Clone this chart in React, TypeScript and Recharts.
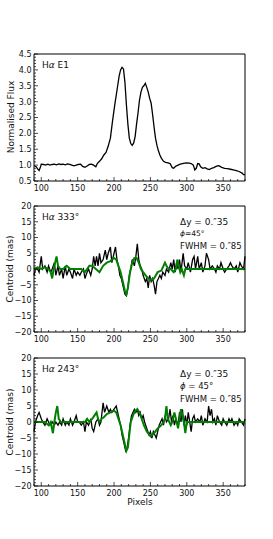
import React from 'react';
import { LineChart, Line, XAxis, YAxis } from 'recharts';

const FONT = '"DejaVu Sans", sans-serif';
const GREEN = '#008000';

// pixel axis
const pixelMajor = [100, 150, 200, 250, 300, 350];
const pixelMinor = [90, 100, 110, 120, 130, 140, 150, 160, 170, 180, 190, 200, 210, 220, 230, 240, 250, 260, 270, 280, 290, 300, 310, 320, 330, 340, 350, 360, 370, 380];

// flux axis
const fluxMajor = [0.5, 1.0, 1.5, 2.0, 2.5, 3.0, 3.5, 4.0, 4.5];
const fluxMinor = [0.5, 0.6, 0.7, 0.8, 0.9, 1.0, 1.1, 1.2, 1.3, 1.4, 1.5, 1.6, 1.7, 1.8, 1.9, 2.0, 2.1, 2.2, 2.3, 2.4, 2.5, 2.6, 2.7, 2.8, 2.9, 3.0, 3.1, 3.2, 3.3, 3.4, 3.5, 3.6, 3.7, 3.8, 3.9, 4.0, 4.1, 4.2, 4.3, 4.4, 4.5];

// centroid axis
const centroidMajor = [-20, -15, -10, -5, 0, 5, 10, 15, 20];
const centroidMinor = [-20, -19, -18, -17, -16, -15, -14, -13, -12, -11, -10, -9, -8, -7, -6, -5, -4, -3, -2, -1, 0, 1, 2, 3, 4, 5, 6, 7, 8, 9, 10, 11, 12, 13, 14, 15, 16, 17, 18, 19, 20];

// H-alpha E1 spectrum [pixel, normalised flux]
const fluxE1: [number, number][] = [
  [90, 0.98], [93, 0.95], [95, 0.88], [97, 0.83], [99, 0.95], [100, 1.03], [103, 1.02], [106, 1.0],
  [109, 1.03], [112, 1.0], [115, 1.02], [118, 1.03], [121, 1.01], [124, 1.04], [127, 1.02], [130, 1.03],
  [133, 1.01], [136, 1.04], [139, 1.02], [142, 1.0], [145, 0.98], [148, 1.0], [151, 1.02], [154, 1.03],
  [157, 0.96], [160, 0.93], [163, 0.97], [166, 1.02], [169, 1.03], [172, 1.0], [175, 0.95], [177, 1.05],
  [180, 1.12], [183, 1.2], [186, 1.32], [189, 1.4], [192, 1.6], [195, 1.85], [198, 2.4], [201, 2.9],
  [204, 3.35], [207, 3.8], [209, 4.0], [211, 4.08], [213, 4.03], [215, 3.6], [217, 2.9], [219, 2.3],
  [221, 1.85], [223, 1.68], [225, 1.62], [227, 1.7], [229, 1.9], [231, 2.3], [233, 2.65], [235, 3.05],
  [237, 3.3], [239, 3.45], [241, 3.5], [243, 3.58], [245, 3.45], [247, 3.3], [249, 3.1], [251, 2.95],
  [253, 2.6], [255, 2.2], [257, 1.85], [259, 1.62], [261, 1.45], [263, 1.32], [265, 1.22], [268, 1.12],
  [271, 1.09], [274, 1.07], [277, 1.05], [280, 0.92], [282, 0.9], [285, 0.97], [288, 1.0], [291, 1.03],
  [294, 1.05], [297, 1.06], [300, 1.07], [303, 1.06], [306, 1.05], [309, 1.0], [311, 0.85], [313, 0.9],
  [315, 1.05], [317, 1.04], [319, 0.95], [322, 0.9], [325, 0.92], [328, 0.88], [331, 0.86], [334, 0.9],
  [337, 0.92], [341, 0.97], [344, 0.98], [348, 0.93], [352, 0.9], [356, 0.89], [360, 0.87], [364, 0.85],
  [368, 0.83], [372, 0.8], [376, 0.75], [378, 0.7], [380, 0.7],
];

// PA 333 deg: observed centroid (black) and model (green)
const obs333: [number, number][] = [
  [90, -2], [92, 0], [95, 0], [97, -1], [100, 4], [102, 0], [105, 1], [108, -1], [110, 1], [113, -1],
  [115, 0], [118, 2], [120, -2], [123, 1], [125, -2], [128, 0], [130, -3], [133, 1], [135, -2], [138, 0],
  [140, -1], [143, -3], [145, 0], [148, -2], [150, -1], [153, -2], [155, -1], [158, 0], [160, -3], [163, -1],
  [165, 0], [168, -2], [170, 0], [172, 4], [174, 1], [176, 4], [178, 1], [180, 5], [182, 2], [185, 3],
  [188, 6], [190, 3], [192, 5], [195, 7], [197, 2], [200, 5], [202, 7], [204, 3], [206, 1], [208, -2],
  [210, -3], [213, -6], [215, -8], [217, -8.5], [219, -6], [221, -2], [223, 0], [225, 3], [228, 1], [230, 4],
  [232, 8], [234, 3], [236, 1], [238, 0], [240, -2], [243, -4], [245, -3], [247, -6], [249, -2], [251, -4],
  [253, -3], [255, -5], [257, -8], [259, -4], [261, -3], [263, -2], [265, -3], [267, -1], [270, -2], [272, 0],
  [275, -1], [278, 2], [280, 0], [282, 3], [284, -1], [286, 2], [288, 0], [290, 3], [292, -1], [295, 5],
  [297, 1], [300, 0], [302, 2], [305, -1], [308, 3], [310, 4], [312, 0], [315, 4], [317, 0], [320, 2],
  [322, -1], [325, 1], [327, 5], [330, 3], [332, 0], [335, 1], [338, 0], [340, -1], [342, 1], [345, 0],
  [347, 2], [350, 0], [352, -1], [355, 0], [358, 1], [360, 2], [362, 1], [365, 0], [368, 1], [370, -1],
  [373, 2], [375, 1], [378, 0], [380, 4],
];

const model333: [number, number][] = [
  [90, 0], [95, 0.5], [100, 0], [105, 0.5], [110, 0], [113, -1], [115, -3], [117, 0], [119, 2], [121, 4],
  [123, 1], [126, 0], [130, 0], [135, 1], [140, 0], [145, 0], [150, 0], [155, 0], [160, -1], [163, 0],
  [166, 1], [170, 1], [175, 0], [180, -1], [185, 1], [190, 2], [195, 2.5], [200, 3.5], [203, 3], [206, 1],
  [209, -1], [212, -4], [215, -7], [217, -8], [219, -6], [222, -1], [225, 2], [228, 3.5], [231, 3.5], [234, 2],
  [237, 0], [240, -1], [245, -2.5], [250, -3.5], [255, -3], [260, -1], [265, -0.5], [268, 1], [270, 2], [272, 1],
  [275, 0], [278, 0], [282, -1], [285, 0], [287, 3], [289, 1], [291, -1], [293, 0], [296, -2], [298, 0],
  [300, 0], [310, 0], [320, 0], [330, 0], [340, 0], [350, 0], [360, 0], [370, 0], [380, 0],
];

// PA 243 deg
const obs243: [number, number][] = [
  [90, -3], [92, 0], [95, 2], [97, 3], [100, 1], [102, 0], [105, -1], [108, 1], [110, 0], [112, -1],
  [115, 0], [118, -1], [120, 0], [123, -1], [125, 0], [128, -1], [130, 1], [133, -1], [135, 0], [138, -1],
  [140, 1], [143, -1], [145, 0], [148, 2], [150, 0], [152, 0], [155, -1], [158, 0], [160, -3], [162, 0],
  [165, -1], [168, 1], [170, -2], [172, -3], [175, 0], [178, 1], [180, -1], [182, 0], [185, 6], [187, 3],
  [190, 5], [193, 3], [195, 4], [197, 3], [200, 4], [203, 5], [205, 3], [207, 1], [209, -1], [211, -4],
  [214, -7], [216, -9], [218, -8], [220, -5], [222, -1], [224, 2], [226, 3], [228, 4], [230, 3], [232, 4],
  [234, 2], [236, 3], [238, 1], [240, 2], [242, 0], [245, -2], [248, -4], [250, -3], [252, -5], [254, -3],
  [256, -4], [258, -5], [260, -3], [262, -1], [264, 0], [266, 1], [268, -1], [270, 2], [272, 0], [275, 1],
  [277, 4], [279, 0], [281, 2], [283, -1], [285, 1], [288, -1], [290, 3], [292, 0], [294, 4], [296, -1],
  [298, 2], [300, -1], [302, 3], [304, 0], [306, -3], [308, 1], [310, 2], [312, 0], [315, 1], [318, 0],
  [320, 2], [322, -1], [325, 1], [328, 0], [330, 5], [332, 2], [334, 4], [336, 0], [338, 1], [340, -1],
  [342, 2], [345, 0], [348, -1], [350, 1], [352, 0], [355, -1], [358, 1], [360, 0], [362, 1], [365, -1],
  [368, 0], [370, -1], [372, 1], [375, 0], [378, -1], [380, 1],
];

const model243: [number, number][] = [
  [90, 0], [95, 0], [100, 0], [105, 0], [110, -1], [113, 0], [116, -3.5], [118, 0], [120, 3], [122, 5],
  [124, 1], [127, 0], [130, 0], [135, 0], [140, 0], [145, 0], [150, 0], [155, 0], [160, 0], [163, 1],
  [166, 0], [170, 1], [173, 2], [176, 3], [178, 1], [180, 0], [183, 1], [186, 1.5], [190, 2.5], [195, 3],
  [200, 3.5], [203, 3], [206, 1], [209, -1], [212, -4], [215, -7], [217, -9], [219, -8], [221, -4], [223, 0],
  [226, 2], [229, 3.5], [232, 4], [235, 3], [238, 1], [241, -1], [245, -3], [250, -4.5], [255, -3.5], [260, -2],
  [265, -1], [268, 0], [270, 1], [272, 5], [274, 1], [276, 0], [278, -1], [280, 0], [283, 3], [286, 0],
  [288, -2], [290, 1], [292, 4], [294, 2], [296, 0], [298, -3.5], [300, 0], [310, 0], [320, 0], [330, 0],
  [340, 0], [350, 0], [360, 0], [370, 0], [380, 0],
];

const toRows = (pts: [number, number][]) => pts.map(([x, y]) => ({ x, y }));

const fmtFlux = (v: number) => v.toFixed(1);
const fmtCentroid = (v: number) => (v < 0 ? '\u2212' + Math.abs(v) : String(v));

const tickText = { fontSize: 8, fontFamily: FONT, fill: '#111' };

const isMajor = (list: number[], v: number) => list.some((m) => Math.abs(m - v) < 1e-6);

type PanelProps = {
  top: number;
  height: number;
  plotTop: number;
  plotBottom: number;
  yDomain: [number, number];
  yMajor: number[];
  yMinor: number[];
  yFmt: (v: number) => string;
  black: [number, number][];
  green?: [number, number][];
};

function Panel({ top, height, plotTop, plotBottom, yDomain, yMajor, yMinor, yFmt, black, green }: PanelProps) {
  const topH = plotTop - top;
  const botH = top + height - plotBottom;
  return (
    <div style={{ position: 'absolute', left: 0, top, width: 273, height }}>
      <LineChart width={273} height={height} margin={{ top: 0, right: 0, bottom: 0, left: 0 }}>
        <XAxis
          dataKey="x"
          type="number"
          domain={[90, 380]}
          ticks={pixelMinor}
          interval={0}
          height={botH}
          tickSize={0}
          tickMargin={0}
          axisLine={{ stroke: '#000', strokeWidth: 1 }}
          tickLine={false}
          tick={(p: any) => {
            const major = isMajor(pixelMajor, p.payload.value);
            return (
              <g>
                <line x1={p.x} x2={p.x} y1={p.y} y2={p.y - (major ? 4 : 2)} stroke="#000" strokeWidth={0.7} />
                {major && (
                  <text x={p.x} y={p.y + 9.5} textAnchor="middle" {...tickText}>
                    {p.payload.value}
                  </text>
                )}
              </g>
            );
          }}
        />
        <XAxis
          xAxisId="top"
          orientation="top"
          dataKey="x"
          type="number"
          domain={[90, 380]}
          ticks={pixelMinor}
          interval={0}
          height={topH}
          tickSize={0}
          tickMargin={0}
          axisLine={{ stroke: '#000', strokeWidth: 1 }}
          tickLine={false}
          tick={(p: any) => {
            const major = isMajor(pixelMajor, p.payload.value);
            return <line x1={p.x} x2={p.x} y1={p.y} y2={p.y + (major ? 4 : 2)} stroke="#000" strokeWidth={0.7} />;
          }}
        />
        <YAxis
          type="number"
          domain={yDomain}
          ticks={yMinor}
          interval={0}
          width={34}
          tickSize={0}
          tickMargin={0}
          axisLine={{ stroke: '#000', strokeWidth: 1 }}
          tickLine={false}
          tick={(p: any) => {
            const major = isMajor(yMajor, p.payload.value);
            return (
              <g>
                <line x1={p.x} x2={p.x + (major ? 4 : 2)} y1={p.y} y2={p.y} stroke="#000" strokeWidth={0.7} />
                {major && (
                  <text x={p.x - 2.5} y={p.y + 2.9} textAnchor="end" {...tickText}>
                    {yFmt(p.payload.value)}
                  </text>
                )}
              </g>
            );
          }}
        />
        <YAxis
          yAxisId="r"
          orientation="right"
          type="number"
          domain={yDomain}
          ticks={yMinor}
          interval={0}
          width={28}
          tickSize={0}
          tickMargin={0}
          axisLine={{ stroke: '#000', strokeWidth: 1 }}
          tickLine={false}
          tick={(p: any) => {
            const major = isMajor(yMajor, p.payload.value);
            return <line x1={p.x} x2={p.x - (major ? 4 : 2)} y1={p.y} y2={p.y} stroke="#000" strokeWidth={0.7} />;
          }}
        />
        <Line
          data={toRows(black)}
          dataKey="y"
          type="linear"
          stroke="#000"
          strokeWidth={1.3}
          dot={false}
          isAnimationActive={false}
        />
        {green && (
          <Line
            data={toRows(green)}
            dataKey="y"
            type="linear"
            stroke={GREEN}
            strokeWidth={2}
            dot={false}
            isAnimationActive={false}
          />
        )}
      </LineChart>
    </div>
  );
}

const annot = { fontFamily: FONT, fill: '#111' };

export default function App() {
  return (
    <div style={{ position: 'absolute', left: 0, top: 0, width: 273, height: 539, background: '#fff' }}>
      <Panel top={0} height={200} plotTop={54} plotBottom={181} yDomain={[0.5, 4.5]} yMajor={fluxMajor} yMinor={fluxMinor} yFmt={fmtFlux} black={fluxE1} />
      <Panel top={195} height={160} plotTop={206} plotBottom={332} yDomain={[-20, 20]} yMajor={centroidMajor} yMinor={centroidMinor} yFmt={fmtCentroid} black={obs333} green={model333} />
      <Panel top={347} height={192} plotTop={358} plotBottom={486} yDomain={[-20, 20]} yMajor={centroidMajor} yMinor={centroidMinor} yFmt={fmtCentroid} black={obs243} green={model243} />
      <svg width={273} height={539} style={{ position: 'absolute', left: 0, top: 0, pointerEvents: 'none' }}>
        <text {...annot} fontSize={9} transform="translate(14,117) rotate(-90)" textAnchor="middle">Normalised Flux</text>
        <text {...annot} fontSize={9} transform="translate(13,269) rotate(-90)" textAnchor="middle">Centroid (mas)</text>
        <text {...annot} fontSize={9} transform="translate(13,422) rotate(-90)" textAnchor="middle">Centroid (mas)</text>
        <text {...annot} fontSize={9} x={140} y={505} textAnchor="middle">Pixels</text>

        <text {...annot} fontSize={9} x={42} y={68}>H<tspan fontStyle="italic">α</tspan> E1</text>

        <text {...annot} fontSize={9} x={42} y={220}>H<tspan fontStyle="italic">α</tspan> 333°</text>
        <text {...annot} fontSize={9} x={180} y={225}>Δy = 0.″35</text>
        <text {...annot} fontSize={7.5} x={180} y={236}><tspan fontStyle="italic">ϕ</tspan>=45°</text>
        <text {...annot} fontSize={8.5} x={180} y={249}>FWHM = 0.″85</text>

        <text {...annot} fontSize={9} x={42} y={372}>H<tspan fontStyle="italic">α</tspan> 243°</text>
        <text {...annot} fontSize={9} x={180} y={377}>Δy = 0.″35</text>
        <text {...annot} fontSize={8.5} x={180} y={389}><tspan fontStyle="italic">ϕ</tspan> = 45°</text>
        <text {...annot} fontSize={8.5} x={180} y={402}>FWHM = 0.″85</text>
      </svg>
    </div>
  );
}
